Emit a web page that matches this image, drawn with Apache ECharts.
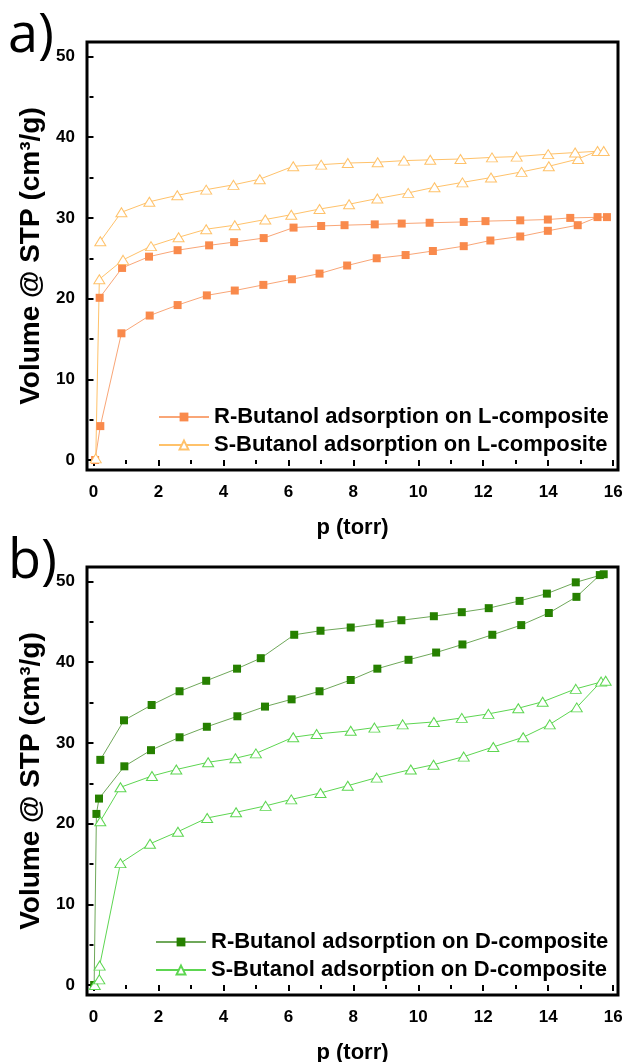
<!DOCTYPE html>
<html>
<head>
<meta charset="utf-8">
<script src="https://cdn.jsdelivr.net/npm/echarts@6/dist/echarts.min.js"></script>
<style>
  html, body { margin: 0; padding: 0; background: #fff; }
  #chart { width: 625px; height: 1062px; }
</style>
</head>
<body>
<div id="chart"></div>
<script>
// a) L-composite, R-Butanol (adsorption then desorption)
var lRX = [0.05, 0.21, 0.86, 1.73, 2.59, 3.49, 4.35, 5.23, 6.11, 6.96, 7.81, 8.72, 9.61, 10.45, 11.40, 12.22, 13.14, 13.99, 14.91, 15.52, 15.81,
  14.68, 13.99, 13.14, 12.07, 11.40, 10.35, 9.49, 8.66, 7.73, 7.01, 6.16, 5.24, 4.33, 3.56, 2.59, 1.71, 0.88, 0.19]
var lRY = [0, 4.2, 15.7, 17.9, 19.2, 20.4, 21.0, 21.7, 22.4, 23.1, 24.1, 25.0, 25.4, 25.9, 26.5, 27.2, 27.7, 28.4, 29.1, 30.1, 30.1,
  30.0, 29.8, 29.7, 29.6, 29.5, 29.4, 29.3, 29.2, 29.1, 29.0, 28.8, 27.5, 27.0, 26.6, 26.0, 25.2, 23.8, 20.1]
// a) L-composite, S-Butanol
var lSX = [0.07, 0.18, 0.91, 1.77, 2.62, 3.47, 4.35, 5.29, 6.09, 6.96, 7.87, 8.74, 9.69, 10.50, 11.36, 12.24, 13.18, 14.02, 14.92, 15.52, 15.71,
  14.83, 14.00, 13.03, 12.27, 11.30, 10.37, 9.56, 8.75, 7.83, 7.01, 6.15, 5.12, 4.31, 3.47, 2.58, 1.72, 0.86, 0.21]
var lSY = [0.2, 22.4, 24.8, 26.5, 27.6, 28.6, 29.1, 29.8, 30.4, 31.1, 31.7, 32.4, 33.1, 33.8, 34.4, 35.0, 35.7, 36.4, 37.3, 38.3, 38.3,
  38.1, 37.9, 37.6, 37.5, 37.3, 37.2, 37.1, 36.9, 36.8, 36.6, 36.4, 34.8, 34.1, 33.5, 32.8, 32.0, 30.7, 27.1]
// b) D-composite, R-Butanol
var dRX = [0.02, 0.09, 0.17, 0.95, 1.77, 2.65, 3.49, 4.43, 5.28, 6.10, 6.96, 7.92, 8.74, 9.70, 10.55, 11.36, 12.28, 13.17, 14.02, 14.87, 15.59, 15.71,
  14.85, 13.96, 13.12, 12.17, 11.34, 10.48, 9.48, 8.81, 7.92, 6.99, 6.18, 5.15, 4.42, 3.47, 2.65, 1.79, 0.94, 0.21]
var dRY = [0, 21.2, 23.1, 27.1, 29.1, 30.7, 32.0, 33.3, 34.5, 35.4, 36.4, 37.8, 39.2, 40.3, 41.2, 42.2, 43.4, 44.6, 46.1, 48.1, 50.8, 50.9,
  49.9, 48.5, 47.6, 46.7, 46.2, 45.7, 45.2, 44.8, 44.3, 43.9, 43.4, 40.5, 39.2, 37.7, 36.4, 34.7, 32.8, 27.9]
// b) D-composite, S-Butanol
var dSX = [0.04, 0.18, 0.19, 0.83, 1.74, 2.60, 3.50, 4.39, 5.30, 6.09, 6.99, 7.83, 8.72, 9.77, 10.47, 11.40, 12.31, 13.23, 14.05, 14.88, 15.63, 15.77,
  14.85, 13.83, 13.08, 12.16, 11.34, 10.48, 9.52, 8.65, 7.92, 6.87, 6.15, 5.00, 4.37, 3.53, 2.55, 1.80, 0.83, 0.21]
var dSY = [0, 0.7, 2.4, 15.1, 17.5, 19.0, 20.7, 21.4, 22.2, 23.0, 23.8, 24.7, 25.7, 26.7, 27.3, 28.3, 29.5, 30.7, 32.3, 34.4, 37.6, 37.7,
  36.7, 35.1, 34.3, 33.6, 33.1, 32.6, 32.3, 31.9, 31.5, 31.1, 30.7, 28.7, 28.1, 27.6, 26.7, 25.9, 24.5, 20.3]

var xTicks = [0, 2, 4, 6, 8, 10, 12, 14, 16]
var xMinor = [1, 3, 5, 7, 9, 11, 13, 15]
var yTicks = [0, 10, 20, 30, 40, 50]
var yMinor = [5, 15, 25, 35, 45]

var names = [
  'R-Butanol adsorption on L-composite',
  'S-Butanol adsorption on L-composite',
  'R-Butanol adsorption on D-composite',
  'S-Butanol adsorption on D-composite'
]

var FONT = 'Liberation Sans, Arial, sans-serif'

function zip (xs, ys) {
  return xs.map(function (x, i) { return [x, ys[i]] })
}

function mainX (g) {
  return {
    type: 'value', gridIndex: g, min: -0.2, max: 16.15,
    name: 'p (torr)', nameLocation: 'middle', nameGap: 47,
    nameTextStyle: { fontFamily: FONT, fontWeight: 'bold', fontSize: 22, color: '#000' },
    axisLine: { show: false },
    axisTick: { show: true, customValues: xTicks, length: 6, lineStyle: { color: '#000', width: 2 } },
    axisLabel: { customValues: xTicks, margin: 14, fontFamily: FONT, fontWeight: 'bold', fontSize: 17, color: '#000' },
    splitLine: { show: false }
  }
}
function minorX (g) {
  return {
    type: 'value', gridIndex: g, min: -0.2, max: 16.15, position: 'bottom',
    axisLine: { show: false }, axisLabel: { show: false }, splitLine: { show: false },
    axisTick: { show: true, customValues: xMinor, length: 4, lineStyle: { color: '#000', width: 2 } }
  }
}
function mainY (g) {
  return {
    type: 'value', gridIndex: g, min: -1.24, max: 51.8,
    name: 'Volume @ STP (cm³/g)', nameLocation: 'middle', nameGap: 21,
    nameTextStyle: { fontFamily: FONT, fontWeight: 'bold', fontSize: 28, color: '#000' },
    axisLine: { show: false },
    axisTick: { show: true, customValues: yTicks, length: 6, lineStyle: { color: '#000', width: 2 } },
    axisLabel: { customValues: yTicks, margin: 12, fontFamily: FONT, fontWeight: 'bold', fontSize: 17, color: '#000' },
    splitLine: { show: false }
  }
}
function minorY (g) {
  return {
    type: 'value', gridIndex: g, min: -1.24, max: 51.8, position: 'left',
    axisLine: { show: false }, axisLabel: { show: false }, splitLine: { show: false },
    axisTick: { show: true, customValues: yMinor, length: 4, lineStyle: { color: '#000', width: 2 } }
  }
}

function squareSeries (name, ax, data, fill, line) {
  return {
    name: name, type: 'line', xAxisIndex: ax, yAxisIndex: ax, data: data,
    symbol: 'rect', symbolSize: 8, showAllSymbol: true,
    itemStyle: { color: fill },
    lineStyle: { color: line, width: 1 }
  }
}
function triSeries (name, ax, data, stroke) {
  return {
    name: name, type: 'line', xAxisIndex: ax, yAxisIndex: ax, data: data,
    symbol: 'triangle', symbolSize: [11, 9], showAllSymbol: true,
    itemStyle: { color: '#fff', borderColor: stroke, borderWidth: 1 },
    lineStyle: { color: stroke, width: 1 }
  }
}

function legendAt (left, top, data) {
  return {
    orient: 'vertical', left: left, top: top, data: data,
    itemWidth: 50, itemHeight: 11, itemGap: 6,
    textStyle: { fontFamily: FONT, fontWeight: 'bold', fontSize: 22, color: '#000', lineHeight: 22 }
  }
}

var chart = echarts.init(document.getElementById('chart'))
chart.setOption({
  animation: false,
  backgroundColor: '#fff',
  grid: [
    { left: 87, top: 42, width: 531, height: 428, show: true, borderColor: '#000', borderWidth: 3, outerBoundsMode: 'none' },
    { left: 87, top: 567, width: 531, height: 428, show: true, borderColor: '#000', borderWidth: 3, outerBoundsMode: 'none' }
  ],
  xAxis: [mainX(0), minorX(0), mainX(1), minorX(1)],
  yAxis: [mainY(0), minorY(0), mainY(1), minorY(1)],
  legend: [
    legendAt(153, 401, [names[0], names[1]]),
    legendAt(150, 926, [names[2], names[3]])
  ],
  graphic: [
    { type: 'text', left: 8, top: 10, style: { text: 'a)', fontFamily: 'Open Sans', fontSize: 54, fill: '#000' } },
    { type: 'text', left: 8, top: 536, style: { text: 'b)', fontFamily: 'Open Sans', fontSize: 54, fill: '#000' } }
  ],
  series: [
    squareSeries(names[0], 0, zip(lRX, lRY), '#F98A4C', '#F9A677'),
    triSeries(names[1], 0, zip(lSX, lSY), '#FFC26A'),
    squareSeries(names[2], 2, zip(dRX, dRY), '#268000', '#6FA85A'),
    triSeries(names[3], 2, zip(dSX, dSY), '#5DD651')
  ]
})
</script>
</body>
</html>
